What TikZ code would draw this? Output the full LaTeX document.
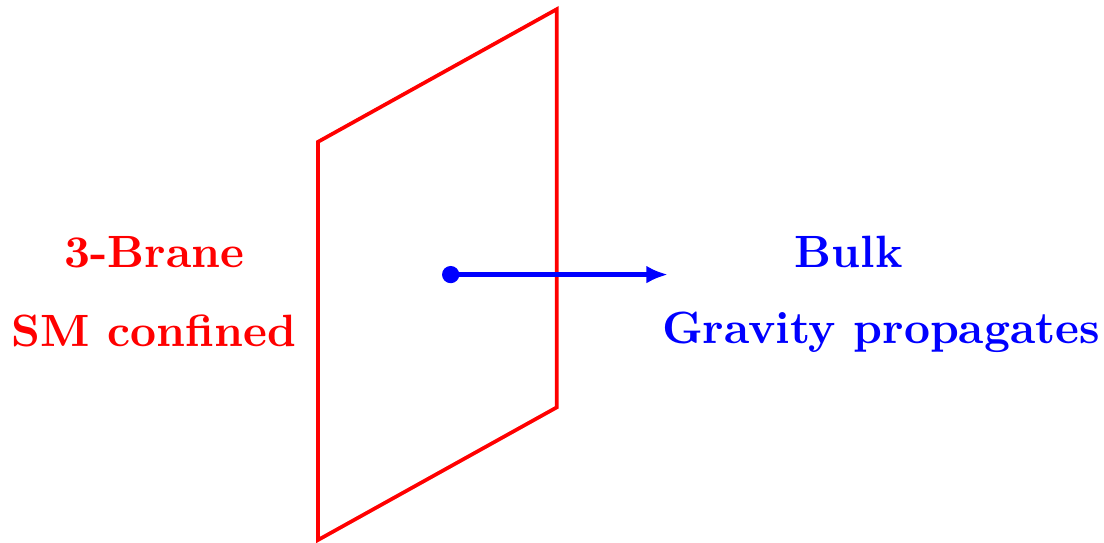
\documentclass[tikz,border=0pt]{standalone}
\usetikzlibrary{arrows.meta}
\begin{document}
\begin{tikzpicture}[
  lbl/.style={font=\fontsize{9.7}{11}\selectfont\bfseries, inner sep=0pt, anchor=base},
  brane/.style={draw=red, thick, line join=miter},
  arr/.style={blue, line width=0.95pt, -{Latex[length=4.6pt,width=3.8pt]}}
]
\useasboundingbox (-2.396,-0.015) rectangle (5.923,4.069);
\coordinate (p1) at (0,0);
\coordinate (p2) at (0,3);
\coordinate (p3) at (1.8,4);
\coordinate (p4) at (1.8,1);
\draw[brane] (p1) -- (p2) -- (p3) -- (p4) -- cycle;
\node[circle, fill=blue, inner sep=0pt, minimum size=0.13cm] (dot) at (1,2) {};
\coordinate (tip) at (2.637,2);
\draw[arr] (dot.center) -- (tip);
\node[lbl, text=red] (brn) at (-1.233,2.05) {3-Brane};
\node[lbl, text=red] (sm) at (-1.235,1.455) {SM confined};
\node[lbl, text=blue] (bulk) at (4.0,2.05) {Bulk};
\node[lbl, text=blue] (grav) at (4.243,1.48) {Gravity propagates};
\end{tikzpicture}
\end{document}
